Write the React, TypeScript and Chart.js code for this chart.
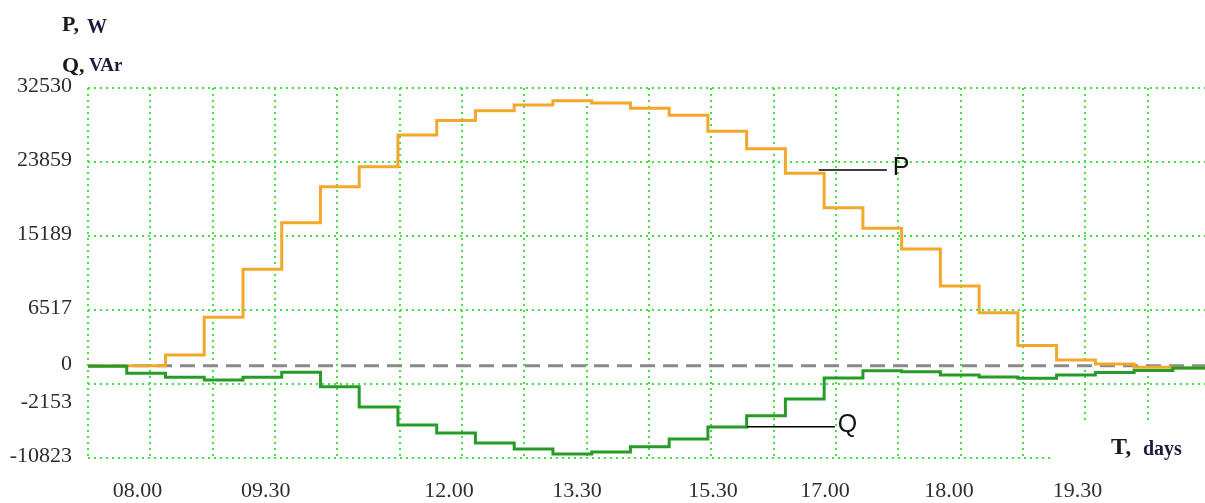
import React, { useEffect, useRef } from 'react';
import { Chart, registerables } from 'chart.js';

Chart.register(...registerables);

// Step values, one per time step (P in W, Q in VAr)
const P_VALUES = [0, 0, 1240, 5660, 11290, 16750, 20970, 23310, 27030, 28730, 29870, 30540, 31050, 30780, 30150, 29330, 27460, 25420, 22540, 18490, 16090, 13670, 9330, 6200, 2350, 660, 190, -200, -280];
const Q_VALUES = [-60, -900, -1370, -1690, -1370, -790, -2470, -4850, -6960, -7900, -9070, -9770, -10360, -10130, -9500, -8600, -7200, -5870, -3910, -1450, -600, -710, -1100, -1340, -1490, -1100, -810, -570, -280];

// Axis ticks
const Y_TICKS = [32530, 23859, 15189, 6517, 0, -2153, -10823];
const X_TICK_LABELS = ['08.00', '09.30', '12.00', '13.30', '15.30', '17.00', '18.00', '19.30'];
const X_TICK_POS = [1.28, 4.59, 9.32, 12.62, 16.13, 19.02, 22.22, 25.54];

const X_MAX = 28.83;
const Y_MIN = -10823;
const Y_MAX = 32530;
const GRID_STEP = 1.609;
const GRID_COUNT = 17;

const GRID_COLOR = '#45e045';
const TEXT_COLOR = '#2e2e2e';

const toSteps = (vals: number[]) =>
  vals.map((v, i) => ({ x: i, y: v })).concat([{ x: vals.length, y: vals[vals.length - 1] }]);

const gridPlugin = {
  id: 'customGrid',
  beforeDatasetsDraw(chart: any) {
    const { ctx, chartArea, scales } = chart;
    const xs = scales.x;
    const ys = scales.y;
    ctx.save();
    ctx.strokeStyle = GRID_COLOR;
    ctx.lineWidth = 2;
    ctx.setLineDash([2, 4]);
    Y_TICKS.filter((v) => v !== 0).forEach((v) => {
      const y = Math.round(ys.getPixelForValue(v));
      const xEnd = v === Y_MIN ? xs.getPixelForValue(24.83) : chartArea.right;
      ctx.beginPath();
      ctx.moveTo(chartArea.left, y);
      ctx.lineTo(xEnd, y);
      ctx.stroke();
    });
    for (let k = 0; k <= GRID_COUNT; k++) {
      const x = Math.round(xs.getPixelForValue(k * GRID_STEP));
      const yEnd = k >= 16 ? ys.getPixelForValue(-6610) : chartArea.bottom;
      ctx.beginPath();
      ctx.moveTo(x, chartArea.top);
      ctx.lineTo(x, yEnd);
      ctx.stroke();
    }
    ctx.restore();
  },
  afterDraw(chart: any) {
    const { ctx, chartArea, scales } = chart;
    const xs = scales.x;
    const ys = scales.y;
    ctx.save();
    ctx.fillStyle = TEXT_COLOR;
    ctx.font = '22px "Liberation Serif", serif';
    ctx.textAlign = 'right';
    ctx.textBaseline = 'alphabetic';
    Y_TICKS.forEach((v) => {
      const off = v === -2153 ? 23.5 : 4;
      ctx.fillText(String(v), 72, ys.getPixelForValue(v) + off);
    });
    ctx.textAlign = 'center';
    X_TICK_LABELS.forEach((lab, i) => {
      ctx.fillText(lab, xs.getPixelForValue(X_TICK_POS[i]), chartArea.bottom + 38.5);
    });

    ctx.fillStyle = '#1a1a1a';
    ctx.textAlign = 'left';
    ctx.font = 'bold 22px "Liberation Serif", serif';
    ctx.fillText('P,', 62, 31);
    ctx.fillText('Q,', 62, 72);
    ctx.font = 'bold 20px "Liberation Serif", serif';
    ctx.fillStyle = '#1c1c3c';
    ctx.fillText('W', 87, 33);
    ctx.font = 'bold 19px "Liberation Serif", serif';
    ctx.fillText('VAr', 89, 71);
    ctx.fillStyle = '#1a1a1a';
    ctx.font = 'bold 24px "Liberation Serif", serif';
    ctx.fillText('T,', 1111, 454);
    ctx.font = 'bold 20px "Liberation Serif", serif';
    ctx.fillStyle = '#1c1c3c';
    ctx.fillText('days', 1143, 455);

    ctx.strokeStyle = '#000';
    ctx.lineWidth = 1.5;
    ctx.beginPath();
    ctx.moveTo(xs.getPixelForValue(18.86), ys.getPixelForValue(22924));
    ctx.lineTo(xs.getPixelForValue(20.62), ys.getPixelForValue(22924));
    ctx.moveTo(xs.getPixelForValue(17.01), ys.getPixelForValue(-7161));
    ctx.lineTo(xs.getPixelForValue(19.28), ys.getPixelForValue(-7161));
    ctx.stroke();
    ctx.fillStyle = '#111';
    ctx.font = '25px "Liberation Sans", Arial, sans-serif';
    ctx.fillText('P', xs.getPixelForValue(20.77), ys.getPixelForValue(22338));
    ctx.fillText('Q', xs.getPixelForValue(19.35), ys.getPixelForValue(-7782));
    ctx.restore();
  },
};

export default function App() {
  const ref = useRef<HTMLCanvasElement | null>(null);
  useEffect(() => {
    document.body.style.margin = '0';
    if (!ref.current) return;
    const chart = new Chart(ref.current, {
      type: 'line',
      data: {
        datasets: [
          {
            label: 'Q',
            data: toSteps(Q_VALUES),
            stepped: 'before',
            borderColor: '#279b27',
            borderWidth: 3,
            pointRadius: 0,
            fill: false,
            order: 0,
          },
          {
            label: 'P',
            data: toSteps(P_VALUES),
            stepped: 'before',
            borderColor: '#f2a82a',
            borderWidth: 3,
            pointRadius: 0,
            fill: false,
            order: 1,
          },
          {
            label: 'zero',
            data: [{ x: 0, y: 0 }, { x: X_MAX, y: 0 }],
            borderColor: '#8a8a8a',
            borderWidth: 3,
            borderDash: [15, 8],
            pointRadius: 0,
            fill: false,
            order: 2,
          },
        ],
      },
      options: {
        responsive: false,
        animation: false,
        layout: { padding: { left: 88, top: 88, right: 0, bottom: 45 } },
        plugins: { legend: { display: false }, tooltip: { enabled: false } },
        scales: {
          x: { type: 'linear', min: 0, max: X_MAX, display: false },
          y: { type: 'linear', min: Y_MIN, max: Y_MAX, display: false },
        },
      },
      plugins: [gridPlugin],
    });
    return () => chart.destroy();
  }, []);
  return (
    <div style={{ width: 1205, height: 503, background: '#fff' }}>
      <canvas ref={ref} width={1205} height={503} style={{ display: 'block' }} />
    </div>
  );
}
